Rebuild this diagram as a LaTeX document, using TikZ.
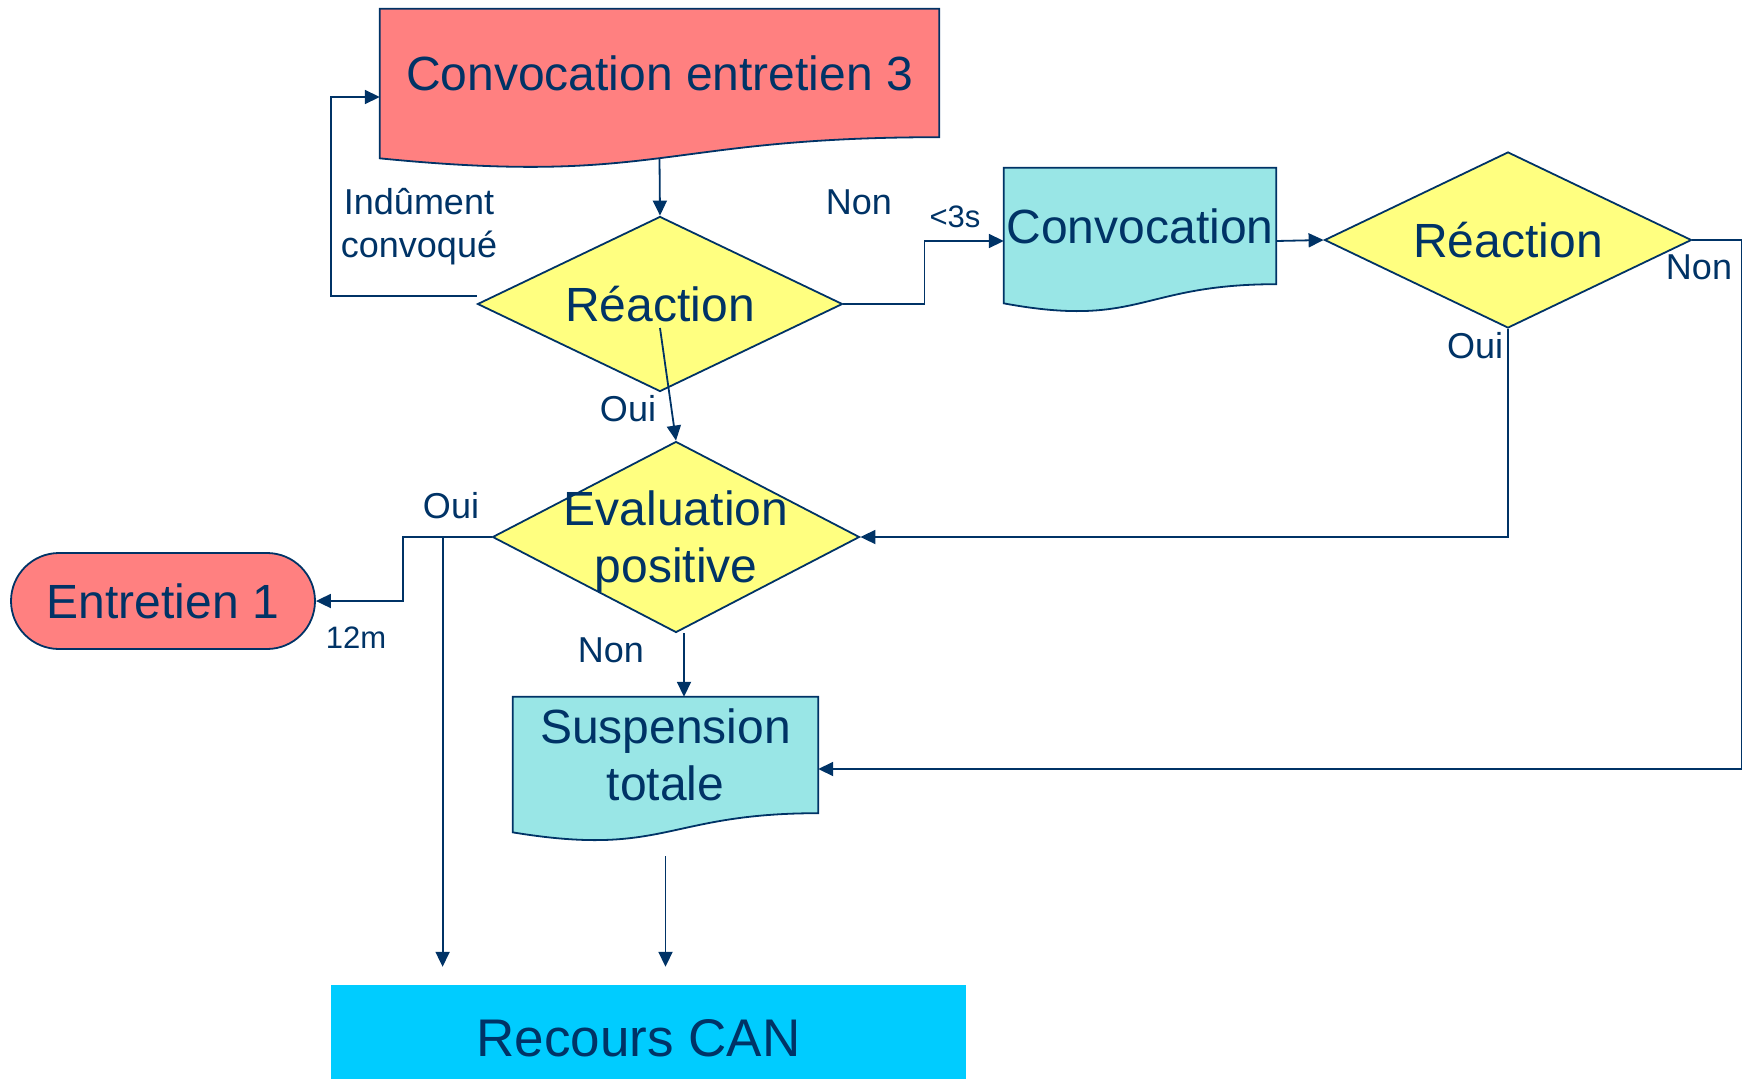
\documentclass[tikz,border=0pt]{standalone}
\usepackage{fontspec}
\setmainfont{Liberation Sans}
\usetikzlibrary{arrows.meta, shapes.geometric, calc, backgrounds}
\definecolor{navy}{RGB}{0,51,102}
\definecolor{salmon}{RGB}{255,128,128}
\definecolor{paleblue}{RGB}{153,230,230}
\definecolor{paleyellow}{RGB}{255,255,128}
\definecolor{skyblue}{RGB}{0,204,255}
\newcommand{\bigtxt}{\fontsize{48}{57}\selectfont}
\newcommand{\midtxt}{\fontsize{36}{43}\selectfont}
\newcommand{\smalltxt}{\fontsize{31}{37}\selectfont}
% wavy bottom of a document box, drawn behind the node
\newcommand{\wavebox}[2]{%
  \begin{scope}[on background layer]
    \filldraw[line width=1.8pt, draw=navy, fill=#2] (#1.north west) -- (#1.north east) -- (#1.south east)
      .. controls (#1.south) and ($(#1.south)!-0.381!(#1.north)$) .. ($(#1.south west)!-0.1646!(#1.north west)$) -- cycle;
  \end{scope}}
\tikzset{>={Triangle[length=15pt,width=14pt]},
  docbox/.style={inner sep=0pt, font=\bigtxt, text=navy, align=center},
  decision/.style={diamond, draw=navy, fill=paleyellow, line width=1.8pt, inner sep=0pt, minimum width=367pt, minimum height=176pt},
  every label/.style={font=\bigtxt, text=navy, align=center},
  flow/.style={->, navy, line width=1.8pt},
  tag/.style={text=navy, font=\midtxt, align=center}}

\begin{document}
\begin{tikzpicture}[x=1pt, y=-1pt]
    \useasboundingbox (0,0) rectangle (1746,1079);
    \node[docbox, minimum width=559pt, minimum height=128pt] (conv3) at (659.5,73) {Convocation entretien 3};
    \wavebox{conv3}{salmon}
    \node[docbox, minimum width=272pt, minimum height=116pt] (conv) at (1140,226) {Convocation};
    \wavebox{conv}{paleblue}
    \node[docbox, minimum width=305pt, minimum height=116pt] (susp) at (665.5,755) {Suspension\\totale};
    \wavebox{susp}{paleblue}
    \node[decision, minimum width=365pt, minimum height=175pt, label=center:Réaction] (reac1) at (660,304) {};
    \node[decision, label=center:Réaction] (reac2) at (1508,240) {};
    \node[decision, minimum height=191pt, label={[yshift=-5pt]center:Evaluation\\positive}] (eval) at (676,537) {};
    \node[draw=navy, fill=salmon, line width=1.8pt, rounded corners=48pt, minimum width=304pt, minimum height=96pt, inner sep=0pt, font=\bigtxt, text=navy] (entr) at (163,601) {Entretien 1};
    \node[fill=skyblue, minimum width=635pt, minimum height=106pt, inner sep=0pt,
      label={[xshift=-10pt, font=\fontsize{53}{63}\selectfont]center:Recours CAN}] (recours) at (648.5,1038) {};

    \draw[flow] ([yshift=-21pt]conv3.south) -- (reac1.north);
    \draw[flow] ([yshift=8pt]reac1.west) -- ++(-146,0) |- ([yshift=-24pt]conv3.west);
    \draw[flow] (reac1.east) -- ++(81,0) |- ([yshift=-15pt]conv.west);
    \draw[flow] ([yshift=-15pt]conv.east) -- (reac2.west);
    \draw[flow] (reac2.south) |- (eval.east);
    \draw[flow] (reac2.east) -- ++(49,0) |- ([yshift=-14pt]susp.east);
    \draw[flow] ([yshift=-24pt]reac1.center) -- (eval.north);
    \draw[flow] (eval.west) -- ++(-89,0) |- (entr.east);
    \coordinate (split) at ([xshift=-49pt]eval.west);
    \coordinate (recin) at ([yshift=18pt]recours.north -| split);
    \draw[flow] (split) -- (recin);
    \draw[flow] ([xshift=8pt]eval.south) -- ([xshift=8pt]eval.south |- susp.north);
    \coordinate (suspout) at ([yshift=-43pt]susp.south);
    \draw[flow] (suspout) -- (suspout |- recin);

    \node[tag] (indu) at (419,227) {Indûment\\convoqué};
    \node[tag] (non1) at (859,202) {Non};
    \node[tag, font=\smalltxt] (delai) at (955,217) {<3s};
    \node[tag] (oui1) at (628,409) {Oui};
    \node[tag] (non2) at (1699,267) {Non};
    \node[tag] (oui2) at (1475,346) {Oui};
    \node[tag] (oui3) at (451,506) {Oui};
    \node[tag, font=\smalltxt] (douze) at (356,638) {12m};
    \node[tag] (non3) at (611,650) {Non};
\end{tikzpicture}
\end{document}
